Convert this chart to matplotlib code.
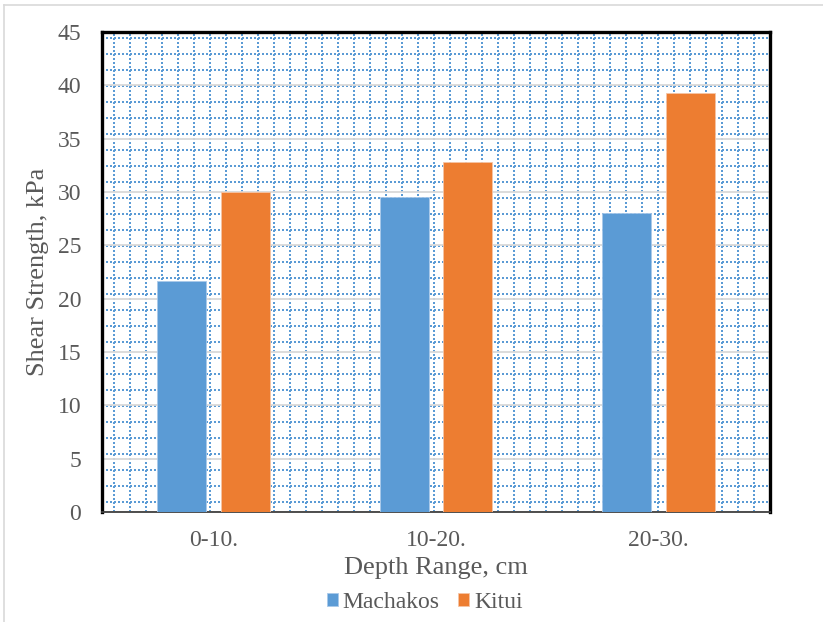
import numpy as np
import matplotlib
matplotlib.use('Agg')
import matplotlib.pyplot as plt
from matplotlib.lines import Line2D

# Data
categories = ['0-10.', '10-20.', '20-30.']
machakos = [21.65, 29.57, 28.03]
kitui = [30.0, 32.85, 39.31]

plt.rcParams['font.family'] = ['Liberation Serif', 'DejaVu Serif']

W, H = 823, 622
fig = plt.figure(figsize=(W / 100, H / 100), dpi=100)

# plot area in pixels
left, right, top, bottom = 102, 770, 32, 512
ax = fig.add_axes([left / W, 1 - bottom / H, (right - left) / W, (bottom - top) / H])

# chart frame (light gray, only left and top visible)
fig.add_artist(Line2D([4 / W, 4 / W], [0, 1 - 5 / H], color='#d9d9d9', lw=1.2))
fig.add_artist(Line2D([4 / W, 1], [1 - 5 / H, 1 - 5 / H], color='#d9d9d9', lw=1.2))

# dotted grid pattern fill of the plot area
pw, ph = right - left, bottom - top
dot = dict(color='#5b9bd5', lw=1.44, linestyle=(0, (1, 1)), transform=ax.transAxes, zorder=0.5)
for yp in np.arange(10, ph, 16):
    ax.plot([0, 1], [yp / ph, yp / ph], **dot)
for xp in np.arange(12, pw, 16):
    ax.plot([xp / pw, xp / pw], [0, 1], **dot)

x = np.arange(len(categories))
width = 0.22
off = 0.143
ax.bar(x - off, machakos, width, color='#5b9bd5', edgecolor='#a9c9ea', lw=0.6,
       label='Machakos', zorder=3)
ax.bar(x + off, kitui, width, color='#ed7d31', edgecolor='#f6c5a6', lw=0.6,
       label='Kitui', zorder=3)

ax.set_xlim(-0.5, 2.5)
ax.set_ylim(0, 45)
ax.set_yticks(np.arange(0, 46, 5))
ax.set_xticks(x)
ax.set_xticklabels(categories)
ax.yaxis.grid(True, color='#d9d9d9', lw=1.3, zorder=1)
ax.set_axisbelow(True)

ax.tick_params(axis='both', length=0, labelsize=17, labelcolor='#595959')
ax.tick_params(axis='y', pad=15)
ax.tick_params(axis='x', pad=13)

for s in ['left', 'top', 'right']:
    ax.spines[s].set_color('black')
    ax.spines[s].set_linewidth(2.4)
ax.spines['bottom'].set_color('#404040')
ax.spines['bottom'].set_linewidth(1.3)

ax.set_ylabel('Shear Strength, kPa', fontsize=19, color='#595959', labelpad=6)
ax.set_xlabel('Depth Range, cm', fontsize=19, color='#595959', labelpad=4)

leg = ax.legend(loc='center', bbox_to_anchor=(0.483, -0.1875), ncol=2, frameon=False,
                fontsize=17, handlelength=0.47, handleheight=0.47, handletextpad=0.2,
                columnspacing=0.8, borderpad=0)
for t in leg.get_texts():
    t.set_color('#595959')

fig.savefig('out.png', dpi=100)
